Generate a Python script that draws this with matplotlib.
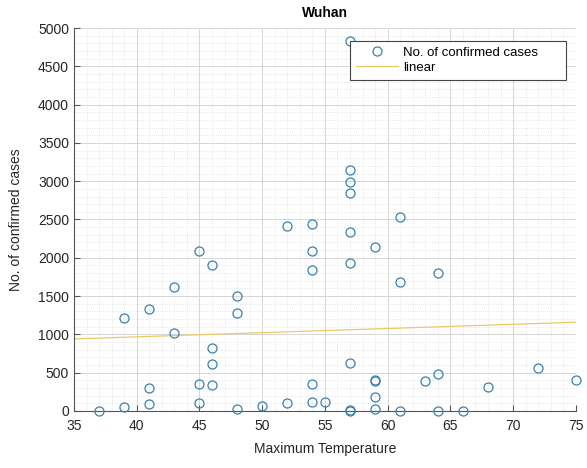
import numpy as np
import matplotlib.pyplot as plt
from matplotlib.ticker import MultipleLocator

# Maximum temperature vs. daily confirmed cases (Wuhan)
temps = [37, 39, 39, 41, 41, 41, 43, 43, 45, 45, 45, 46, 46, 46, 46, 48, 48, 48,
         50, 52, 52, 54, 54, 54, 54, 54, 55, 57, 57, 57, 57, 57, 57, 57, 57, 57,
         59, 59, 59, 59, 59, 61, 61, 61, 63, 64, 64, 64, 66, 68, 72, 75]
cases = [5, 1210, 45, 1335, 305, 95, 1620, 1015, 2085, 355, 100, 1905, 825, 615, 340,
         1495, 1275, 25, 60, 2410, 100, 2440, 2090, 1835, 350, 120, 120, 4830, 3150,
         2995, 2840, 2335, 1930, 625, 10, 0, 2135, 400, 385, 180, 25, 2535, 1685, 5,
         395, 1800, 485, 0, 0, 310, 555, 405]

plt.rcParams['font.family'] = ['Liberation Sans', 'DejaVu Sans']

fig = plt.figure(figsize=(5.87, 4.68), dpi=100)
ax = fig.add_axes([0.126, 0.122, 0.855, 0.818])

ax.plot(temps, cases, 'o', mfc='none', mec='#3a82ad', ms=6.5, mew=0.9,
        label='No. of confirmed cases', clip_on=False, zorder=3)

# linear fit
coef = np.polyfit(temps, cases, 1)
xs = np.array([35, 75])
ax.plot(xs, np.polyval(coef, xs), color='#ecc866', lw=0.9, label='linear')

ax.set_xlim(35, 75)
ax.set_ylim(0, 5000)
ax.xaxis.set_major_locator(MultipleLocator(5))
ax.xaxis.set_minor_locator(MultipleLocator(1))
ax.yaxis.set_major_locator(MultipleLocator(500))
ax.yaxis.set_minor_locator(MultipleLocator(100))

ax.grid(which='major', color='#d6d6d6', lw=0.7)
ax.grid(which='minor', color='#dedede', lw=0.6, ls=':')
ax.set_axisbelow(True)

for s in ['top', 'right']:
    ax.spines[s].set_visible(False)
for s in ['left', 'bottom']:
    ax.spines[s].set_color('#555555')
    ax.spines[s].set_linewidth(0.8)
ax.tick_params(which='major', direction='in', length=4, labelsize=10,
               color='#555555', labelcolor='#262626')
ax.tick_params(axis='x', which='major', pad=6)
ax.tick_params(which='minor', length=0)

ax.set_title('Wuhan', fontsize=10, fontweight='bold', pad=8)
ax.set_xlabel('Maximum Temperature', fontsize=10, color='#262626', labelpad=6)
ax.set_ylabel('No. of confirmed cases', fontsize=10, color='#262626', labelpad=11)

# legend box stretched across the upper right
leg = ax.legend(loc='upper left', bbox_to_anchor=(0.55, 0.5, 0.43, 0.467),
                mode='expand', fontsize=9.5,
                fancybox=False, framealpha=1, edgecolor='#444444',
                handlelength=3.2, handletextpad=0.4, borderpad=0.45,
                labelspacing=0.2, borderaxespad=0)
leg.get_frame().set_linewidth(0.8)

fig.savefig('out.png', dpi=100)
